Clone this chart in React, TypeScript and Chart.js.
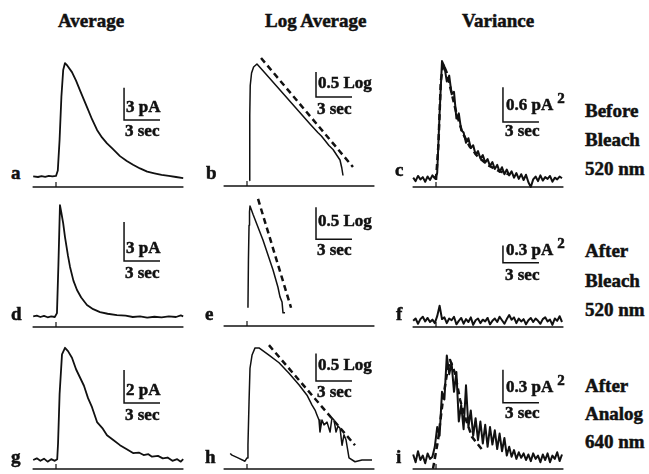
import React, { useEffect, useRef } from "react";
import { Chart, registerables } from "chart.js";

Chart.register(...registerables);

// ---------------- DATA (time in s, current in pA, log units, variance in pA^2) ----------------
const STIMULUS_T = 0;
const AXIS_T = [-1.95, 10.62];

// Average, before bleach (a)
const avgBeforeT = [-1.9, -1.5, -1.2, -0.9, -0.6, -0.3, 0, 0.15, 0.3, 0.45, 0.6, 0.75, 0.95, 1.33, 1.67, 2.0, 2.33, 2.67, 3.0, 3.42, 3.83, 4.25, 4.75, 5.33, 5.9, 6.42, 7.0, 7.6, 8.2, 8.8, 9.4, 10.0, 10.6];
const avgBeforeV = [0.05, 0.0, 0.08, 0.02, 0.1, 0.05, 0.1, 0.6, 3.5, 7.5, 10.0, 10.65, 10.4, 9.8, 9.0, 8.1, 7.2, 6.3, 5.4, 4.4, 3.7, 3.15, 2.6, 1.95, 1.5, 1.15, 0.8, 0.5, 0.35, 0.2, 0.1, 0.0, -0.1];

// Average, after bleach (d)
const avgBleachT = [-1.9, -1.6, -1.3, -1.0, -0.7, -0.4, -0.1, 0.08, 0.2, 0.33, 0.45, 0.6, 0.75, 1.0, 1.17, 1.45, 1.75, 2.1, 2.58, 3.1, 3.67, 4.3, 5.08, 5.8, 6.4, 7.0, 7.6, 8.2, 8.8, 9.4, 10.0, 10.4, 10.6];
const avgBleachV = [0.05, 0.1, 0.0, 0.08, -0.02, 0.05, 0.0, 0.3, 4.0, 8.6, 8.0, 7.2, 6.15, 4.7, 3.85, 2.8, 2.08, 1.5, 0.92, 0.6, 0.38, 0.25, 0.15, 0.1, 0.0, 0.05, -0.05, 0.02, -0.03, 0.05, 0.0, 0.12, 0.05];

// Average, after analog (g)
const avgAnalogT = [-1.9, -1.6, -1.3, -1.0, -0.7, -0.4, -0.1, 0.1, 0.17, 0.3, 0.5, 0.75, 1.0, 1.33, 1.67, 2.0, 2.33, 2.67, 3.0, 3.42, 3.9, 4.25, 4.8, 5.33, 5.9, 6.42, 6.9, 7.3, 7.7, 8.0, 8.5, 8.9, 9.3, 9.7, 10.1, 10.4, 10.6];
const avgAnalogV = [0.0, 0.1, -0.05, 0.08, -0.1, 0.05, -0.05, 0.05, 1.0, 4.0, 6.4, 6.8, 6.6, 6.2, 5.5, 5.0, 4.5, 3.75, 3.2, 2.3, 1.9, 1.5, 1.2, 0.9, 0.65, 0.42, 0.45, 0.3, 0.35, 0.2, 0.25, 0.1, 0.15, -0.05, 0.05, -0.1, 0.05];

// Log average (b, e, h) and single-exponential fits (dashed)
const logBeforeT = [0.2, 0.23, 0.27, 0.38, 0.55, 0.83, 1.5, 2.75, 4.0, 5.25, 5.9, 6.2, 6.5, 6.83, 7.17, 7.5, 7.75, 7.9, 8.0];
const logBeforeV = [-1.3, 0.0, 0.6, 0.85, 0.97, 1.03, 0.85, 0.51, 0.17, -0.17, -0.34, -0.41, -0.5, -0.6, -0.68, -0.8, -0.89, -1.05, -1.2];
const logBeforeFitT = [1.17, 8.83];
const logBeforeFitV = [1.15, -1.03];

const logBleachT = [0.08, 0.12, 0.17, 0.21, 0.25, 0.5, 1.33, 2.17, 2.58, 2.75, 2.92, 3.0, 3.17];
const logBleachV = [-0.66, 0.09, 0.63, 0.84, 0.93, 0.8, 0.4, -0.07, -0.34, -0.49, -0.57, -0.74, -0.74];
const logBleachFitT = [0.92, 3.67];
const logBleachFitV = [1.04, -0.66];

const logAnalogT = [-1.4, -1.25, -0.75, -0.17, 0, 0.08, 0.17, 0.25, 0.42, 0.67, 1.0, 1.83, 2.67, 3.5, 4.33, 5.0, 5.42, 5.67, 5.83, 6.0, 6.08, 6.25, 6.42, 6.67, 6.92, 7.08, 7.25, 7.42, 7.58, 7.75, 7.92, 8.08, 8.25, 8.5, 9.0, 9.58, 10.42];
const logAnalogV = [-1.1, -1.13, -1.18, -1.24, -1.18, -0.95, -0.16, 0.45, 0.69, 0.82, 0.82, 0.69, 0.55, 0.36, 0.15, -0.04, -0.22, -0.31, -0.4, -0.49, -0.71, -0.49, -0.58, -0.53, -0.71, -0.45, -0.49, -0.71, -0.6, -0.64, -0.95, -0.76, -0.85, -1.18, -1.25, -1.22, -1.22];
const logAnalogFitT = [1.83, 9.0];
const logAnalogFitV = [0.87, -0.95];

// Variance (c, f, i): sampled every 0.2 s from -1.9 s
const VAR_START = -1.9;
const VAR_STEP = 0.2;
const varBeforeV = [0.04, -0.02, 0.07, 0.01, 0.05, -0.03, 0.06, 0.0, 0.08, 0.03, 0.12,
  1.15, 2.05, 1.96, 1.7, 1.8, 1.48, 1.52, 1.06, 1.15, 0.86,
  0.82, 0.64, 0.72, 0.55, 0.6, 0.44, 0.5, 0.37, 0.43, 0.3,
  0.36, 0.24, 0.31, 0.19, 0.26, 0.14, 0.22, 0.1, 0.18, 0.08,
  0.15, 0.04, 0.12, 0.02, 0.1, 0.0, 0.09, -0.04, -0.12, 0.01,
  0.06, -0.02, 0.08, -0.01, 0.05, 0.02, 0.07, -0.03, 0.04, 0.01, 0.06, 0.03];
const varBeforeFitT = [0.0, 0.2, 0.4, 0.6, 0.9, 1.3, 1.7, 2.2, 2.8, 3.5, 4.3, 5.2, 6.2];
const varBeforeFitV = [0.0, 0.6, 1.7, 2.0, 1.85, 1.5, 1.15, 0.82, 0.58, 0.4, 0.26, 0.16, 0.09];

const varBleachV = [0.02, 0.06, -0.03, 0.05, 0.09, 0.01, 0.07, 0.0, 0.04, -0.02, 0.1,
  0.28, 0.05, 0.08, -0.02, 0.06, 0.03, 0.09, -0.04, 0.02, 0.07,
  -0.03, 0.05, 0.0, 0.08, -0.05, 0.03, 0.06, -0.02, 0.04, 0.01,
  0.07, -0.04, 0.02, 0.06, 0.0, 0.09, 0.03, -0.03, 0.05, 0.12,
  0.04, 0.08, -0.02, 0.06, 0.01, 0.05, -0.04, 0.03, 0.07, 0.0,
  0.06, 0.02, -0.03, 0.05, 0.08, 0.01, 0.04, -0.05, 0.06, 0.02, 0.1, 0.0];

const varAnalogV = [0.05, -0.02, 0.08, 0.0, 0.04, -0.03, 0.06, 0.01, 0.03, 0.12, 0.3,
  0.22, 0.62, 0.55, 0.95, 0.78, 0.88, 0.62, 0.8, 0.35, 0.5,
  0.28, 0.68, 0.3, 0.45, 0.22, 0.38, 0.18, 0.35, 0.15, 0.32,
  0.12, 0.3, 0.14, 0.27, 0.1, 0.24, 0.08, 0.2, 0.04, 0.12,
  0.03, 0.09, 0.01, 0.07, 0.02, 0.06, 0.0, 0.05, -0.01, 0.06,
  0.01, 0.04, -0.02, 0.05, 0.0, 0.06, -0.02, 0.04, 0.01, 0.07, -0.01, 0.05];
const varAnalogFitT = [-0.25, 0.17, 0.58, 0.92, 1.17, 1.58, 2.0, 2.42, 3.0, 3.8];
const varAnalogFitV = [-0.08, 0.18, 0.55, 0.79, 0.91, 0.79, 0.55, 0.39, 0.21, 0.1];

const SCALE_SEC = 3;

// ---------------- LAYOUT / STYLE ----------------
const INK = "#111";
const SERIF = "'Liberation Serif', 'DejaVu Serif', 'Times New Roman', serif";
const PX_PER_SEC = 12;
const T_MIN = -2.25;
const T_MAX = 10.75;
const PAD = 4;

const varTimes = (vals: number[]) => vals.map((_, i) => +(VAR_START + i * VAR_STEP).toFixed(2));

type Series = { t: number[]; v: number[]; width: number; dash?: number[] };
type PanelDef = {
  id: string;
  t0px: number; y0px: number; ppu: number; topPx: number; axisPx: number;
  series: Series[];
  bar: { t: number; v: number; len: number };
};

const SOLID_AVG = 1.8;
const SOLID_LOG = 1.5;
const SOLID_VAR = 2.0;
const DASH = [6, 4];
const DASH_W = 2.5;

const panels: PanelDef[] = [
  { id: "a", t0px: 56, y0px: 177, ppu: 10.7, topPx: 45, axisPx: 187,
    series: [{ t: avgBeforeT, v: avgBeforeV, width: SOLID_AVG }],
    bar: { t: 5.67, v: 5.33, len: 3 } },
  { id: "b", t0px: 247, y0px: 115.5, ppu: 50, topPx: 45, axisPx: 186,
    series: [{ t: logBeforeT, v: logBeforeV, width: SOLID_LOG }, { t: logBeforeFitT, v: logBeforeFitV, width: DASH_W, dash: DASH }],
    bar: { t: 5.75, v: 0.37, len: 0.5 } },
  { id: "c", t0px: 436, y0px: 180, ppu: 58, topPx: 45, axisPx: 187,
    series: [{ t: varTimes(varBeforeV), v: varBeforeV, width: SOLID_VAR }, { t: varBeforeFitT, v: varBeforeFitV, width: DASH_W, dash: DASH }],
    bar: { t: 5.58, v: 1.0, len: 0.6 } },
  { id: "d", t0px: 56, y0px: 317, ppu: 13, topPx: 190, axisPx: 327,
    series: [{ t: avgBleachT, v: avgBleachV, width: SOLID_AVG }],
    bar: { t: 5.67, v: 4.31, len: 3 } },
  { id: "e", t0px: 247, y0px: 265.5, ppu: 64, topPx: 190, axisPx: 326,
    series: [{ t: logBleachT, v: logBleachV, width: SOLID_LOG }, { t: logBleachFitT, v: logBleachFitV, width: DASH_W, dash: DASH }],
    bar: { t: 5.75, v: 0.41, len: 0.5 } },
  { id: "f", t0px: 436, y0px: 322, ppu: 58, topPx: 190, axisPx: 327,
    series: [{ t: varTimes(varBleachV), v: varBleachV, width: SOLID_VAR }],
    bar: { t: 5.58, v: 1.02, len: 0.3 } },
  { id: "g", t0px: 56, y0px: 460, ppu: 16.5, topPx: 330, axisPx: 469,
    series: [{ t: avgAnalogT, v: avgAnalogV, width: SOLID_AVG }],
    bar: { t: 5.67, v: 3.45, len: 2 } },
  { id: "h", t0px: 247, y0px: 393, ppu: 55, topPx: 330, axisPx: 469,
    series: [{ t: logAnalogT, v: logAnalogV, width: SOLID_LOG }, { t: logAnalogFitT, v: logAnalogFitV, width: DASH_W, dash: DASH }],
    bar: { t: 5.75, v: 0.22, len: 0.5 } },
  { id: "i", t0px: 436, y0px: 460, ppu: 110, topPx: 330, axisPx: 469,
    series: [{ t: varTimes(varAnalogV), v: varAnalogV, width: SOLID_VAR }, { t: varAnalogFitT, v: varAnalogFitV, width: DASH_W, dash: DASH }],
    bar: { t: 5.58, v: 0.52, len: 0.3 } },
];

type Label = { text: string; x: number; base: number; size: number; sup?: string };
const HEAD = 19;
const LET = 19;
const SB = 17;
const labels: Label[] = [
  { text: "Average", x: 58, base: 27, size: HEAD },
  { text: "Log Average", x: 265, base: 27, size: HEAD },
  { text: "Variance", x: 462, base: 27, size: HEAD },
  { text: "a", x: 11, base: 179, size: LET },
  { text: "b", x: 206, base: 179, size: LET },
  { text: "c", x: 395, base: 176, size: LET },
  { text: "d", x: 11, base: 320, size: LET },
  { text: "e", x: 205, base: 320, size: LET },
  { text: "f", x: 396, base: 320, size: LET },
  { text: "g", x: 11, base: 463, size: LET },
  { text: "h", x: 205, base: 463, size: LET },
  { text: "i", x: 396, base: 463, size: LET },
  { text: "3 pA", x: 126, base: 112, size: SB },
  { text: "3 sec", x: 125, base: 136, size: SB },
  { text: "3 pA", x: 126, base: 253, size: SB },
  { text: "3 sec", x: 125, base: 278, size: SB },
  { text: "2 pA", x: 126, base: 395, size: SB },
  { text: "3 sec", x: 125, base: 420, size: SB },
  { text: "0.5 Log", x: 318, base: 88, size: SB },
  { text: "3 sec", x: 317, base: 114, size: SB },
  { text: "0.5 Log", x: 318, base: 226, size: SB },
  { text: "3 sec", x: 317, base: 255, size: SB },
  { text: "0.5 Log", x: 318, base: 370, size: SB },
  { text: "3 sec", x: 317, base: 397, size: SB },
  { text: "0.6 pA", x: 506, base: 110, size: SB, sup: "2" },
  { text: "3 sec", x: 505, base: 136, size: SB },
  { text: "0.3 pA", x: 506, base: 255, size: SB, sup: "2" },
  { text: "3 sec", x: 505, base: 280, size: SB },
  { text: "0.3 pA", x: 506, base: 392, size: SB, sup: "2" },
  { text: "3 sec", x: 505, base: 418, size: SB },
  { text: "Before", x: 585, base: 117, size: HEAD },
  { text: "Bleach", x: 585, base: 146, size: HEAD },
  { text: "520 nm", x: 585, base: 175, size: HEAD },
  { text: "After", x: 585, base: 257, size: HEAD },
  { text: "Bleach", x: 585, base: 287, size: HEAD },
  { text: "520 nm", x: 585, base: 316, size: HEAD },
  { text: "After", x: 585, base: 392, size: HEAD },
  { text: "Analog", x: 585, base: 420, size: HEAD },
  { text: "640 nm", x: 585, base: 448, size: HEAD },
];

// Baseline axis + stimulus tick, drawn through the chart's scales
const axisPlugin = {
  id: "traceAxis",
  afterDatasetsDraw(chart: any) {
    const { ctx, scales } = chart;
    const x = scales.x;
    const y = scales.y;
    const yb = y.getPixelForValue(y.min);
    ctx.save();
    ctx.strokeStyle = INK;
    ctx.lineWidth = 1.6;
    ctx.beginPath();
    ctx.moveTo(x.getPixelForValue(AXIS_T[0]), yb);
    ctx.lineTo(x.getPixelForValue(AXIS_T[1]), yb);
    ctx.stroke();
    const xs = x.getPixelForValue(STIMULUS_T);
    ctx.lineWidth = 1.2;
    ctx.beginPath();
    ctx.moveTo(xs, yb);
    ctx.lineTo(xs, yb - 5);
    ctx.stroke();
    ctx.restore();
  },
};

function Panel({ p }: { p: PanelDef }) {
  const ref = useRef<HTMLCanvasElement>(null);
  const width = (T_MAX - T_MIN) * PX_PER_SEC + 2 * PAD;
  const height = p.axisPx - p.topPx + 2 * PAD;
  const left = p.t0px + T_MIN * PX_PER_SEC - PAD;
  const top = p.topPx - PAD;

  useEffect(() => {
    const canvas = ref.current;
    if (!canvas) return;
    const ymax = (p.y0px - p.topPx) / p.ppu;
    const ymin = (p.y0px - p.axisPx) / p.ppu;
    const datasets: any[] = p.series.map((s) => ({
      data: s.t.map((t, i) => ({ x: t, y: s.v[i] })),
      borderColor: INK,
      borderWidth: s.width,
      borderDash: s.dash ?? [],
      borderJoinStyle: "round",
      pointRadius: 0,
      fill: false,
      tension: 0,
      clip: false,
    }));
    const b = p.bar;
    datasets.push({
      data: [
        { x: b.t, y: b.v + b.len },
        { x: b.t, y: b.v },
        { x: b.t + SCALE_SEC, y: b.v },
      ],
      borderColor: INK,
      borderWidth: 1.5,
      pointRadius: 0,
      fill: false,
      tension: 0,
      clip: false,
    });
    const chart = new Chart(canvas, {
      type: "line",
      data: { datasets },
      options: {
        animation: false,
        responsive: false,
        events: [],
        layout: { padding: PAD },
        plugins: { legend: { display: false }, tooltip: { enabled: false } },
        scales: {
          x: { type: "linear", display: false, min: T_MIN, max: T_MAX },
          y: { type: "linear", display: false, min: ymin, max: ymax },
        },
      },
      plugins: [axisPlugin],
    } as any);
    return () => chart.destroy();
  }, [p]);

  return (
    <canvas
      ref={ref}
      width={width}
      height={height}
      style={{ position: "absolute", left, top, width, height }}
    />
  );
}

function Text({ l }: { l: Label }) {
  return (
    <div
      style={{
        position: "absolute",
        left: l.x,
        top: l.base - 0.8375 * l.size,
        fontSize: l.size,
        lineHeight: `${l.size}px`,
        fontFamily: SERIF,
        fontWeight: 700,
        whiteSpace: "nowrap",
        color: INK,
        WebkitTextStroke: "0.5px #111",
      }}
    >
      {l.text}
      {l.sup && (
        <span style={{ fontSize: 15, position: "relative", top: -7, marginLeft: 4 }}>{l.sup}</span>
      )}
    </div>
  );
}

export default function App() {
  return (
    <div style={{ position: "absolute", left: 0, top: 0, width: 649, height: 474, background: "#fff", overflow: "hidden" }}>
      {panels.map((p) => (
        <Panel key={p.id} p={p} />
      ))}
      {labels.map((l, i) => (
        <Text key={i} l={l} />
      ))}
    </div>
  );
}
